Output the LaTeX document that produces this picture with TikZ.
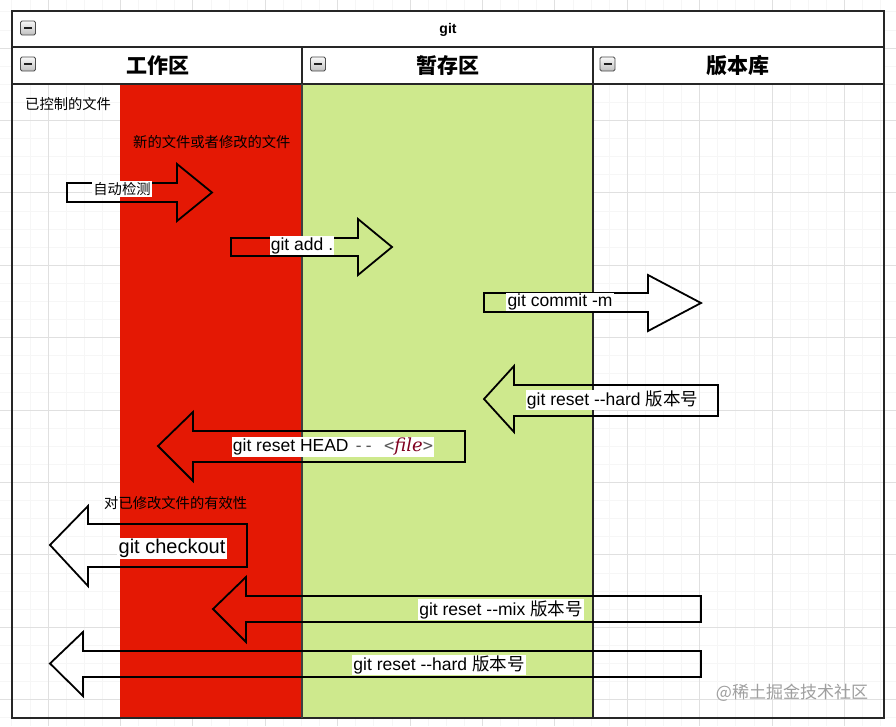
\documentclass[tikz,border=0pt]{standalone}
\usepackage{fontspec}
\setmainfont{Liberation Sans}
\setmonofont{DejaVu Sans Mono}
\newfontfamily\cjk{Noto Sans CJK SC}
\newfontfamily\codeserif{DejaVu Serif}
\definecolor{wred}{RGB}{228,24,4}
\definecolor{sgreen}{RGB}{206,233,141}
\definecolor{codered}{RGB}{128,0,32}
\definecolor{minorgrid}{RGB}{246,246,246}
\definecolor{majorgrid}{RGB}{224,224,224}
\begin{document}
\begin{tikzpicture}[x=1pt,y=-1pt,
  framel/.style={draw=black!85,line width=2pt},
  blockarrow/.style={draw=black,line width=1.8pt,line join=miter},
  lbl/.style={fill=white,inner sep=1.2pt,font=\fontsize{17.5}{20}\selectfont},
  note/.style={font=\cjk\fontsize{14.3}{16}\selectfont,inner sep=0pt},
  headt/.style={font=\cjk\bfseries\fontsize{21}{24}\selectfont},
  icon/.style={rounded corners=1.5pt,draw=gray!60!black,line width=0.8pt,top color=gray!5,bottom color=gray!50,minimum width=15pt,minimum height=14pt,inner sep=0pt}
]
\useasboundingbox (0,0) rectangle (896,726);
\fill[white] (0,0) rectangle (896,726);
% grid
\foreach \k in {-3,...,47} {
  \draw[minorgrid,line width=0.8pt] ({48+18.1*\k},0) -- ({48+18.1*\k},726);
}
\foreach \k in {-3,...,38} {
  \draw[minorgrid,line width=0.8pt] (0,{48+18.1*\k}) -- (896,{48+18.1*\k});
}
\foreach \k in {-1,...,12} {
  \draw[majorgrid,line width=0.9pt] ({48+72.4*\k},0) -- ({48+72.4*\k},726);
}
\foreach \k in {-1,...,10} {
  \draw[majorgrid,line width=0.9pt] (0,{48+72.4*\k}) -- (896,{48+72.4*\k});
}
% fills
\fill[white] (12,11) rectangle (884,84);
\fill[wred] (120,84) rectangle (302,718);
\fill[sgreen] (302,84) rectangle (593,718);
% frame
\draw[framel] (12,11) rectangle (884,718);
\draw[framel] (12,47) -- (884,47);
\draw[framel] (12,84) -- (884,84);
\draw[framel] (302,47) -- (302,84);
\draw[draw=black!75,line width=1.2pt] (302,84) -- (302,718);
\draw[framel] (593,47) -- (593,718);
% header texts
\node[font=\bfseries\fontsize{14}{16}\selectfont] (title) at (448,30) {git};
\node[headt] (h1) at (158,66) {工作区};
\node[headt] (h2) at (448,66) {暂存区};
\node[headt] (h3) at (738,66) {版本库};
\foreach \n/\x/\y in {i0/28/28, i1/28/64, i2/318/64, i3/607.5/64} {
  \node[icon] (\n) at (\x,\y) {};
  \draw[line width=2pt,gray!25!black] ([xshift=-4pt]\n.center) -- ([xshift=4pt]\n.center);
}
% notes
\node[note,anchor=west] (n1) at (25,104) {已控制的文件};
\node[note,anchor=west] (n2) at (133,142) {新的文件或者修改的文件};
\node[note,anchor=west] (n3) at (104,503) {对已修改文件的有效性};
% right arrows
\draw[blockarrow] (67,183) -- (177,183) -- (177,164) -- (212,192.5) -- (177,221) -- (177,202) -- (67,202) -- cycle;
\draw[blockarrow] (231,238) -- (358,238) -- (358,219) -- (392,247) -- (358,275) -- (358,256) -- (231,256) -- cycle;
\draw[blockarrow] (484,293) -- (648,293) -- (648,275) -- (701,303) -- (648,331) -- (648,312) -- (484,312) -- cycle;
% left arrows
\draw[blockarrow] (718,385) -- (514,385) -- (514,366) -- (484,399) -- (514,432) -- (514,416) -- (718,416) -- cycle;
\draw[blockarrow] (465,431) -- (193,431) -- (193,412) -- (158,446) -- (193,481) -- (193,462) -- (465,462) -- cycle;
\draw[blockarrow] (247,524) -- (88,524) -- (88,506) -- (50,545) -- (88,586) -- (88,567) -- (247,567) -- cycle;
\draw[blockarrow] (701,596) -- (246,596) -- (246,577) -- (213,609) -- (246,642) -- (246,622) -- (701,622) -- cycle;
\draw[blockarrow] (701,651) -- (83,651) -- (83,632) -- (50,663.5) -- (83,696) -- (83,677) -- (701,677) -- cycle;
% labels
\node[note,fill=white,inner sep=1pt] (l1) at (122,189) {自动检测};
\node[lbl] (l2) at (302,245.5) {git add .};
\node[lbl] (l3) at (560,302) {git commit -m};
\node[lbl] (l4) at (612.5,400) {git reset -{}-hard {\cjk 版本号}};
\node[lbl] (l5) at (333,447) {git reset HEAD {\ttfamily\fontsize{17}{18}\selectfont\color{gray!70!black}-{}-~<}{\codeserif\fontsize{18}{18}\selectfont\itshape\color{codered}file}{\ttfamily\fontsize{17}{18}\selectfont\color{gray!70!black}>}};
\node[lbl,font=\fontsize{20}{22}\selectfont] (l6) at (172,548.5) {git checkout};
\node[lbl] (l7) at (501,609.5) {git reset -{}-mix {\cjk 版本号}};
\node[lbl] (l8) at (439,665) {git reset -{}-hard {\cjk 版本号}};
% watermark
\node[font=\cjk\fontsize{17}{20}\selectfont,text=gray!75,inner sep=0pt] (wm) at (792,693) {@稀土掘金技术社区};
\end{tikzpicture}
\end{document}
